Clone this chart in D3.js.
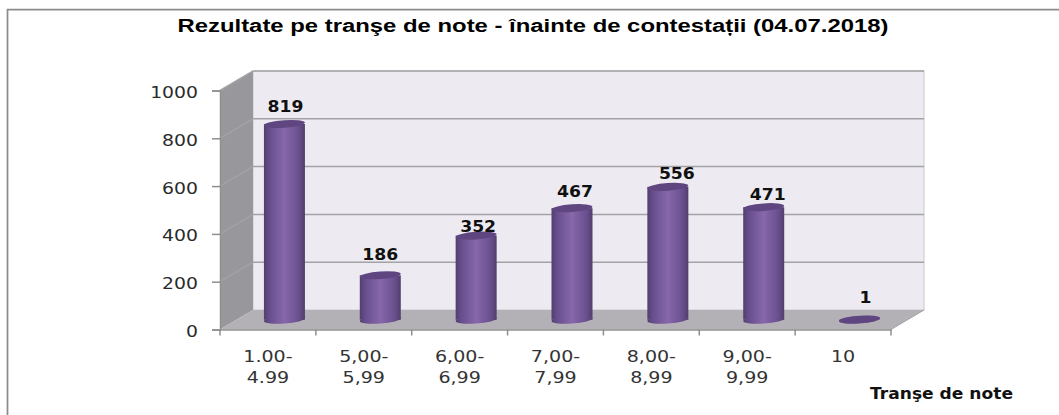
<!DOCTYPE html>
<html>
<head>
<meta charset="utf-8">
<script src="https://cdn.jsdelivr.net/npm/d3@7"></script>
<style>
  html, body { margin: 0; background: #fff; }
  svg { display: block; }
  text { font-family: "DejaVu Sans", sans-serif; }
</style>
</head>
<body>
<svg id="chart" width="1059" height="415"></svg>
<script>
const titleText = 'Rezultate pe tranşe de note - înainte de contestații (04.07.2018)';
const axisTitle = 'Tranşe de note';
const categories = ['1.00-|4.99', '5,00-|5,99', '6,00-|6,99', '7,00-|7,99', '8,00-|8,99', '9,00-|9,99', '10'];
const values = [819, 186, 352, 467, 556, 471, 1];
const yTicks = [0, 200, 400, 600, 800, 1000];

// depth of the fake 3d box
const depth = { x: 33, y: -19.5 };
// hand nudges so the labels land where they do in the picture
const labelNudge = [[1, -12], [0, -15], [2, -4], [3, -11], [9, -8], [4, -7], [6, -17]];

const svg = d3.select('#chart');

const x = d3.scaleBand().domain(categories).range([220, 891]);
const y = d3.scaleLinear().domain([0, 1000]).range([329.5, 90.5]);
const barWidth = 41;

// the picture is stretched sideways, so widen text the same way
function widen(sel, k) {
  sel.each(function () {
    d3.select(this)
      .attr('textLength', this.getComputedTextLength() * k)
      .attr('lengthAdjust', 'spacingAndGlyphs');
  });
}

const defs = svg.append('defs');
const grad = defs.append('linearGradient').attr('id', 'cyl');
[[0, '#523e6e'], [0.12, '#664d8a'], [0.5, '#8768ab'], [0.85, '#6a4f8e'], [1, '#523e6e']].forEach(s => {
  grad.append('stop').attr('offset', s[0]).attr('stop-color', s[1]);
});

// outer frame, only left and top are inside the crop
svg.append('path')
  .attr('d', 'M7.5,415V9.5H1059')
  .attr('fill', 'none')
  .attr('stroke', '#8c8c8c')
  .attr('stroke-width', 1.75);

svg.append('text')
  .attr('x', 533).attr('y', 32)
  .attr('text-anchor', 'middle')
  .attr('fill', '#000')
  .style('font-family', '"Liberation Sans", Arial, sans-serif')
  .style('font-size', '18px')
  .style('font-weight', 'bold')
  .attr('textLength', 711)
  .attr('lengthAdjust', 'spacingAndGlyphs')
  .text(titleText);

const x0 = x.range()[0], x1 = x.range()[1];
const poly = pts => pts.map(p => p.join(',')).join(' ');

// back wall
svg.append('rect')
  .attr('x', x0 + depth.x).attr('y', y(1000) + depth.y)
  .attr('width', x1 - x0).attr('height', y(0) - y(1000))
  .attr('fill', '#edebf1')
  .attr('stroke', '#c9c9cc');

// side wall
svg.append('polygon')
  .attr('points', poly([[x0, y(0)], [x0, y(1000)], [x0 + depth.x, y(1000) + depth.y], [x0 + depth.x, y(0) + depth.y]]))
  .attr('fill', '#98979b');

// floor
svg.append('polygon')
  .attr('points', poly([[x0, y(0)], [x1, y(0)], [x1 + depth.x, y(0) + depth.y], [x0 + depth.x, y(0) + depth.y]]))
  .attr('fill', '#b3b1b6');

// gridlines on wall and side
yTicks.filter(d => d > 0).forEach(d => {
  svg.append('polyline')
    .attr('points', poly([[x0, y(d)], [x0 + depth.x, y(d) + depth.y], [x1 + depth.x, y(d) + depth.y]]))
    .attr('fill', 'none')
    .attr('stroke', '#a3a2a6')
    .attr('stroke-width', 1.5);
});
svg.append('polyline')
  .attr('points', poly([[x1, y(0)], [x1 + depth.x, y(0) + depth.y]]))
  .attr('fill', 'none')
  .attr('stroke', '#a3a2a6');

// axes
const yAxis = d3.axisLeft(y).tickValues(yTicks).tickSize(8).tickPadding(14).tickFormat(d3.format('d'));
const yAxisG = svg.append('g')
  .attr('transform', `translate(${x0},0)`)
  .call(yAxis);

const xAxis = d3.axisBottom(x).tickSize(0).tickFormat('');
const xAxisG = svg.append('g')
  .attr('transform', `translate(0,${y(0)})`)
  .call(xAxis);
xAxisG.selectAll('.tick').remove();
// ticks sit on band edges, not the middles
xAxisG.selectAll('line.edge')
  .data(categories.map(d => x(d)).concat([x1]))
  .enter().append('line')
  .attr('class', 'edge')
  .attr('x1', d => d).attr('x2', d => d)
  .attr('y1', 0).attr('y2', 6);

[yAxisG, xAxisG].forEach(g => {
  g.selectAll('.domain').attr('stroke', '#8f8f8f').attr('stroke-width', 1.5);
  g.selectAll('line').attr('stroke', '#8f8f8f').attr('stroke-width', 1.5);
});
yAxisG.selectAll('text')
  .attr('fill', '#2a2a2a')
  .attr('dy', '0.42em')
  .style('font-size', '16.5px')
  .call(widen, 1.14);

// category labels
const catLabels = svg.append('g').selectAll('text')
  .data(categories)
  .enter().append('text')
  .attr('x', d => x(d) + x.bandwidth() / 2)
  .attr('y', 362)
  .attr('text-anchor', 'middle')
  .attr('fill', '#333')
  .style('font-size', '16px');
catLabels.selectAll('tspan')
  .data(d => d.split('|'))
  .enter().append('tspan')
  .attr('x', function () { return d3.select(this.parentNode).attr('x'); })
  .attr('dy', (d, i) => i ? 21.5 : 0)
  .text(d => d);
// textLength on the parent would not suit two lines, scale around the label centre
catLabels.attr('transform', d => {
  const c = x(d) + x.bandwidth() / 2;
  return `translate(${c},0) scale(1.19,1) translate(${-c},0)`;
});

// cylinders, standing halfway into the depth
const cx = d => x(d) + x.bandwidth() / 2 + depth.x / 2;
const yMid = v => y(v) + depth.y / 2;
const rx = barWidth / 2;

const bars = svg.append('g').selectAll('g')
  .data(values)
  .enter().append('g')
  .attr('transform', (d, i) => `translate(${cx(categories[i])},0)`);

bars.append('ellipse')
  .attr('cx', 0)
  .attr('cy', yMid(0))
  .attr('rx', rx)
  .attr('ry', 3.8)
  .attr('transform', `rotate(-4 0 ${yMid(0)})`)
  .attr('fill', 'url(#cyl)');

bars.append('rect')
  .attr('x', -rx)
  .attr('width', barWidth)
  .attr('y', d => yMid(d))
  .attr('height', d => yMid(0) - yMid(d))
  .attr('fill', 'url(#cyl)');

bars.append('ellipse')
  .attr('cx', 0)
  .attr('cy', d => yMid(d))
  .attr('rx', rx)
  .attr('ry', 3.8)
  .attr('transform', d => `rotate(-4 0 ${yMid(d)})`)
  .attr('fill', '#5f4681');

// value labels
svg.append('g').selectAll('text')
  .data(values)
  .enter().append('text')
  .attr('x', (d, i) => cx(categories[i]) + labelNudge[i][0])
  .attr('y', (d, i) => yMid(d) + labelNudge[i][1])
  .attr('text-anchor', 'middle')
  .attr('fill', '#111')
  .style('font-size', '15.5px')
  .style('font-weight', 'bold')
  .text(d => d)
  .call(widen, 1.11);

svg.append('text')
  .attr('x', 1013).attr('y', 399)
  .attr('text-anchor', 'end')
  .attr('fill', '#111')
  .style('font-size', '15.5px')
  .style('font-weight', 'bold')
  .attr('textLength', 143)
  .attr('lengthAdjust', 'spacingAndGlyphs')
  .text(axisTitle);
</script>
</body>
</html>
